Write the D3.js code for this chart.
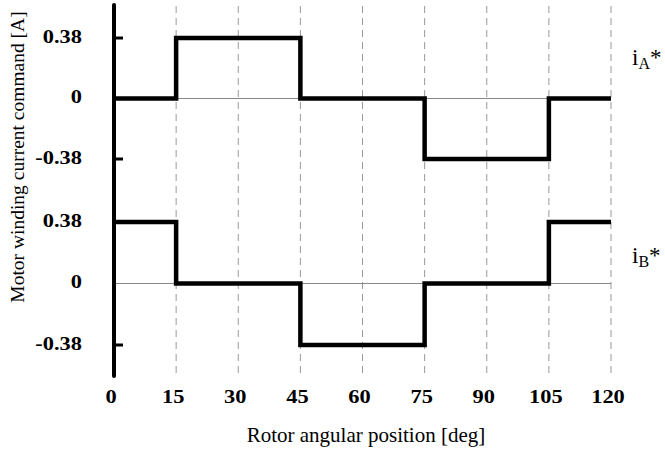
<!DOCTYPE html>
<html>
<head>
<meta charset="utf-8">
<script src="https://cdn.jsdelivr.net/npm/d3@7"></script>
<style>
  body { margin: 0; background: #fff; }
  svg text { font-family: "Liberation Serif", "Times New Roman", "DejaVu Serif", serif; }
</style>
</head>
<body>
<svg id="chart" width="665" height="452"></svg>
<script>
// data
var angles = [0, 15, 45, 75, 105, 120];
var iA = [0, 0.38, 0, -0.38, 0, 0];
var iB = [0.38, 0, -0.38, 0, 0.38, 0.38];
var xTicks = [0, 15, 30, 45, 60, 75, 90, 105, 120];
var yTicks = [0.38, 0, -0.38];
var seriesNames = ["A", "B"];

var svg = d3.select("#chart");

var x = d3.scaleLinear().domain([0, 120]).range([114, 611]);
var yTop = d3.scaleLinear().domain([-0.38, 0.38]).range([159, 38]);
var yBot = d3.scaleLinear().domain([-0.38, 0.38]).range([345, 222]);

var stretch = 1.18; // tick numbers in the scan are wide

// dashed grid
svg.selectAll("line.grid").data(xTicks.slice(1)).enter().append("line")
  .attr("x1", function(d) { return x(d); })
  .attr("x2", function(d) { return x(d); })
  .attr("y1", 6).attr("y2", 376)
  .attr("stroke", "#999").attr("stroke-width", 1)
  .attr("stroke-dasharray", "7,5");

// zero lines
[yTop, yBot].forEach(function(y) {
  svg.append("line")
    .attr("x1", x(0)).attr("x2", x(120))
    .attr("y1", y(0)).attr("y2", y(0))
    .attr("stroke", "#888").attr("stroke-width", 1);
});

// y axis line
svg.append("line")
  .attr("x1", x(0)).attr("x2", x(0))
  .attr("y1", 5).attr("y2", 376)
  .attr("stroke", "#000").attr("stroke-width", 4)
  .attr("stroke-linecap", "round");

// tick marks + labels
[yTop, yBot].forEach(function(y) {
  svg.selectAll(null).data(yTicks.filter(function(d) { return d !== 0; })).enter().append("line")
    .attr("x1", x(0)).attr("x2", x(0) + 9)
    .attr("y1", function(d) { return y(d); })
    .attr("y2", function(d) { return y(d); })
    .attr("stroke", "#000").attr("stroke-width", 3);
  svg.selectAll(null).data(yTicks).enter().append("text")
    .attr("transform", function(d) { return "translate(82," + (y(d) + 4.5) + ") scale(" + stretch + ",1)"; })
    .attr("text-anchor", "end")
    .attr("font-size", 19).attr("font-weight", "bold")
    .text(function(d) { return d === 0 ? "0" : d.toFixed(2); });
});

svg.selectAll("text.xt").data(xTicks).enter().append("text")
  .attr("transform", function(d) { return "translate(" + (x(d) - 3) + ",403) scale(" + stretch + ",1)"; })
  .attr("text-anchor", "middle")
  .attr("font-size", 19).attr("font-weight", "bold")
  .text(function(d) { return d; });

// step lines
var line = function(y) {
  return d3.line()
    .x(function(d) { return x(d[0]); })
    .y(function(d) { return y(d[1]); })
    .curve(d3.curveStepAfter);
};
[[iA, yTop], [iB, yBot]].forEach(function(p) {
  var pts = angles.map(function(a, i) { return [a, p[0][i]]; });
  svg.append("path")
    .attr("d", line(p[1])(pts))
    .attr("fill", "none").attr("stroke", "#000")
    .attr("stroke-width", 4.5).attr("stroke-linejoin", "miter");
});

// series labels
[[yTop, 65], [yBot, 263]].forEach(function(p, i) {
  var t = svg.append("text").attr("x", 632).attr("y", p[1]).attr("font-size", 23);
  t.append("tspan").text("i");
  t.append("tspan").attr("font-size", 16).attr("dy", 4).text(seriesNames[i]);
  t.append("tspan").attr("dy", -4).text("*");
});

// axis titles
svg.append("text")
  .attr("x", 366).attr("y", 442)
  .attr("text-anchor", "middle").attr("font-size", 21)
  .text("Rotor angular position [deg]");

svg.append("text")
  .attr("transform", "translate(24,157) rotate(-90)")
  .attr("text-anchor", "middle").attr("font-size", 19.5)
  .text("Motor winding current command [A]");
</script>
</body>
</html>
